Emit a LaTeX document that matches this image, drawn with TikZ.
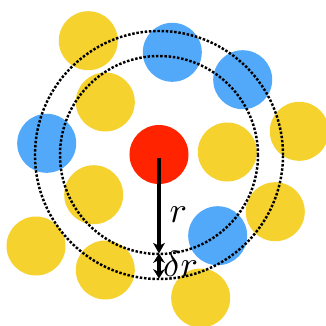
\documentclass[tikz,border=0pt]{standalone}
\usepackage{tikz}
\usetikzlibrary{arrows.meta}
\usepackage{xcolor}
\definecolor{Gold}{HTML}{F5D22E}
\definecolor{Sky}{HTML}{52A9FA}
\definecolor{Core}{HTML}{FF2300}

\begin{document}
\begin{tikzpicture}[x=0.03cm,y=-0.03cm,
  disc/.style={circle,minimum size=1.77cm,inner sep=0pt,draw=none},
  shell/.style={black,line width=2.1pt,dash pattern=on 2.1pt off 1.5pt},
  radius arrow/.style={black,line width=2.9pt},
  lbl/.style={inner sep=0pt,anchor=base,scale=3.1,transform shape}]
\useasboundingbox (0,0) rectangle (326,326);
% outer ring of neighbours
\node[disc,fill=Gold] (y1) at (88.3,40.7) {};
\node[disc,fill=Sky] (b1) at (172.3,52.3) {};
\node[disc,fill=Sky] (b2) at (242.7,79.7) {};
\node[disc,fill=Gold] (y2) at (299.3,131.3) {};
\node[disc,fill=Gold] (y3) at (275.3,211.7) {};
\node[disc,fill=Sky] (b3) at (217.7,235.7) {};
\node[disc,fill=Gold] (y4) at (200.7,298.0) {};
\node[disc,fill=Gold] (y5) at (105.3,270.0) {};
\node[disc,fill=Gold] (y6) at (36.0,246.0) {};
\node[disc,fill=Sky] (b4) at (46.7,143.3) {};
% inner neighbours
\node[disc,fill=Gold] (y7) at (105.3,102.0) {};
\node[disc,fill=Gold] (y8) at (227.3,152.0) {};
\node[disc,fill=Gold] (y9) at (93.7,194.7) {};
% central particle
\node[disc,fill=Core] (core) at (159,154.5) {};
% shells
\coordinate (c) at (159,155);
\draw[shell] (c) circle[radius=2.97cm];
\draw[shell] (c) circle[radius=3.72cm];
\coordinate (start) at (159,158);
\coordinate (inner) at (159,253.5);
\coordinate (outer) at (159,278.5);
\draw[radius arrow,-{Stealth[length=9pt,width=10pt,inset=2.5pt]}] (start) -- (inner);
\draw[radius arrow,{Stealth[length=8pt,width=10pt,inset=2.5pt]}-{Stealth[length=8pt,width=10pt,inset=2.5pt]}] (inner) -- (outer);
\node[lbl] (rlab) at (178.3,222) {$r$};
\node[lbl] (drlab) at (180.5,276.5) {$\delta r$};
\end{tikzpicture}
\end{document}
